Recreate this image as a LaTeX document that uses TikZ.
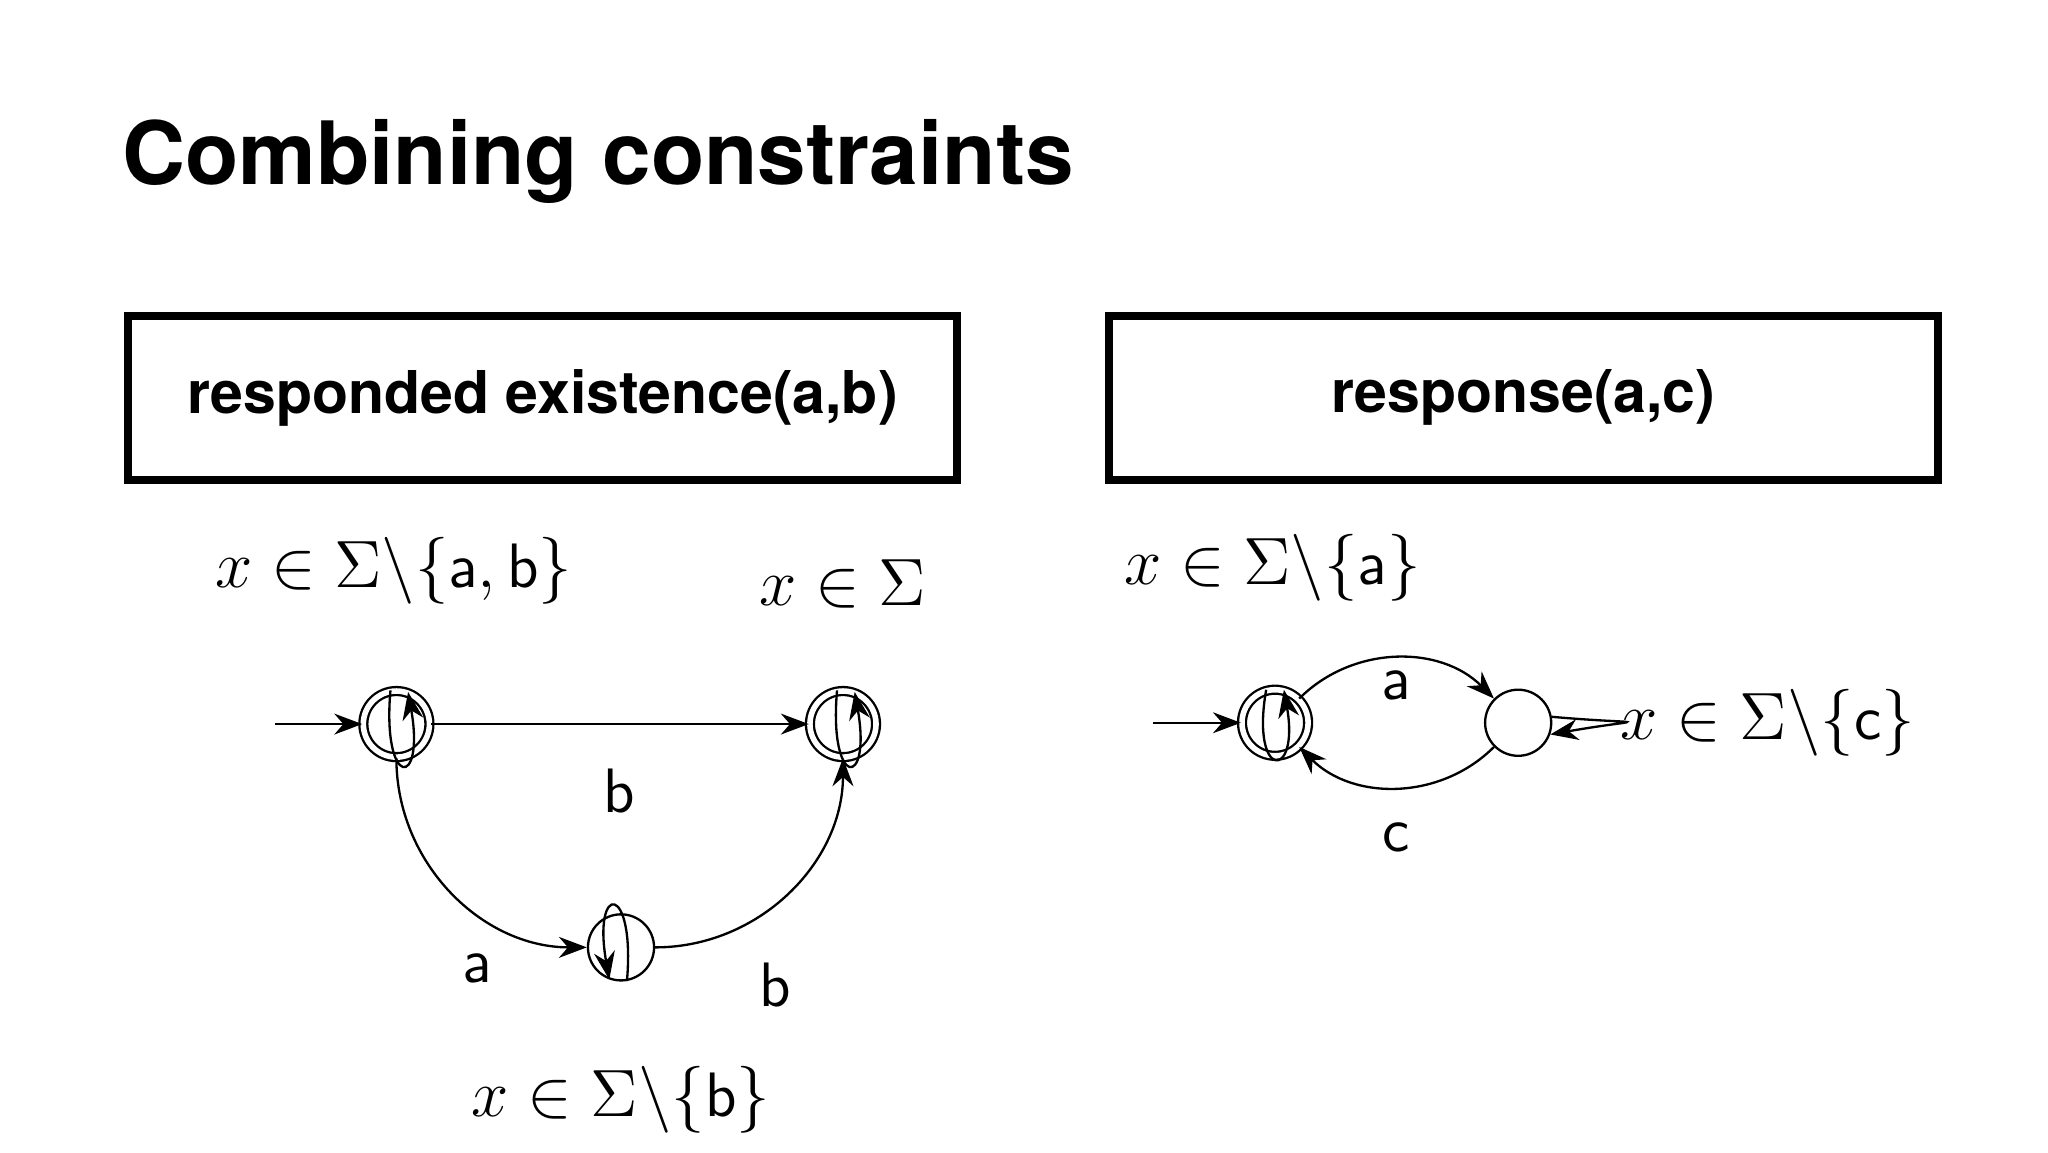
\documentclass[tikz,border=0pt]{standalone}
\usepackage{fontspec}
\setmainfont{TeX Gyre Heros}
\usepackage{amsmath}
\usetikzlibrary{arrows.meta}
\begin{document}
\begin{tikzpicture}[x=0.01cm,y=-0.01cm,
  >={Stealth[length=6pt,width=4.5pt]},
  st/.style={circle,draw,line width=0.5pt,minimum size=0.5cm,inner sep=0pt},
  acc/.style={st,double,double distance=1.2pt,minimum size=0.5cm},
  edge/.style={->,line width=0.5pt},
  lbl/.style={font=\fontsize{13.5}{15}\selectfont},
  cbox/.style={draw,line width=1.8pt,minimum width=6.27cm,minimum height=1.24cm,font=\fontsize{12.7}{15}\bfseries\selectfont}]
\useasboundingbox (0,0) rectangle (1550,872);
\node[anchor=base west,font=\fontsize{18.8}{22}\bfseries\selectfont] (title) at (80,140) {Combining constraints};
\node[cbox] (b1) at (410.5,301) {responded existence(a,b)};
\node[cbox] (b2) at (1153,301) {response(a,c)};
% left automaton
\node[acc] (q0) at (300,548) {};
\node[acc] (q1) at (638,548) {};
\node[st] (q2) at (470,717) {};
\coordinate (i0) at (208,548);
\draw[edge] (i0) -- (q0);
\draw[edge] (q0) -- node[lbl,below=6pt] {$\mathsf{b}$} (q1);
\draw[edge] (q0.south) to[out=-90,in=180] node[lbl,pos=0.75,below left=1pt] {$\mathsf{a}$} (q2.west);
\draw[edge] (q2.east) to[out=0,in=-90] node[lbl,pos=0.25,below right=3pt] {$\mathsf{b}$} (q1.south);
\draw[edge] (q0.100) .. controls +(95:75) and +(80:75) .. (q0.70);
\draw[edge] (q1.100) .. controls +(95:75) and +(80:75) .. (q1.70);
\draw[edge] (q2.-80) .. controls +(-85:75) and +(-100:75) .. (q2.-110);
\node[lbl] (l0) at (298,432) {$x\in\Sigma\backslash\{\mathsf{a},\mathsf{b}\}$};
\node[lbl] (l1) at (638,442) {$x\in\Sigma$};
\node[lbl] (l2) at (470,832) {$x\in\Sigma\backslash\{\mathsf{b}\}$};
% right automaton
\node[acc] (p0) at (965,547) {};
\node[st] (p1) at (1149,547) {};
\coordinate (i1) at (873,547);
\draw[edge] (i1) -- (p0);
\draw[edge] (p0) to[bend left=45] node[lbl,below=-1pt] {$\mathsf{a}$} (p1);
\draw[edge] (p1) to[bend left=45] node[lbl,below=4pt] {$\mathsf{c}$} (p0);
\draw[edge] (p0.105) .. controls +(100:70) and +(80:70) .. (p0.75);
\draw[edge] (p1.10) .. controls +(5:75) and +(-10:75) .. (p1.-20);
\node[lbl] (l3) at (963,430) {$x\in\Sigma\backslash\{\mathsf{a}\}$};
\node[lbl] (l4) at (1338,547) {$x\in\Sigma\backslash\{\mathsf{c}\}$};
\end{tikzpicture}
\end{document}
